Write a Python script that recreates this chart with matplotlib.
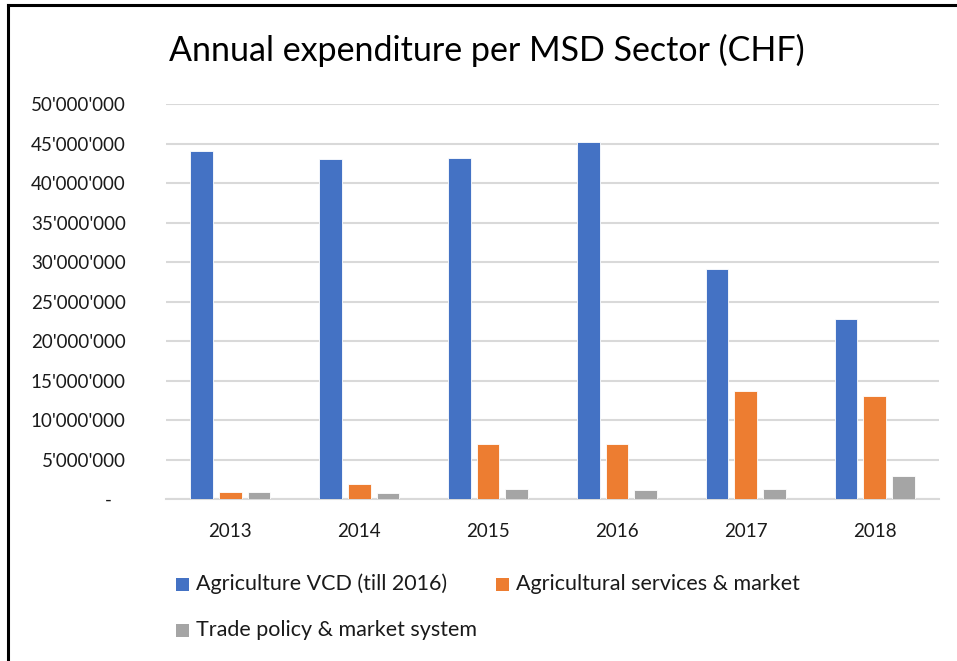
import numpy as np
import matplotlib.pyplot as plt
from matplotlib.lines import Line2D
from matplotlib.patches import Rectangle
from matplotlib.ticker import FuncFormatter, MultipleLocator

plt.rcParams['font.family'] = ['Lato', 'DejaVu Sans']

years = ['2013', '2014', '2015', '2016', '2017', '2018']
series_names = ['Agriculture VCD (till 2016)',
                'Agricultural services & market',
                'Trade policy & market system']
agri_vcd = [44.05e6, 43.0e6, 43.2e6, 45.2e6, 29.1e6, 22.75e6]
agri_services = [0.85e6, 1.86e6, 6.93e6, 7.01e6, 13.67e6, 13.0e6]
trade_policy = [0.85e6, 0.72e6, 1.27e6, 1.14e6, 1.23e6, 2.87e6]
colors = ['#4472C4', '#ED7D31', '#A5A5A5']


def chf(v, pos):
    if v == 0:
        return '-   '
    return f'{int(v):,}'.replace(',', "'")


W, H = 957, 661
fig = plt.figure(figsize=(W / 100, H / 100), dpi=100)
ax = fig.add_axes([166 / W, 1 - 499 / H, (939 - 166) / W, (499 - 104) / H])

x = np.arange(len(years))
width = 0.176
step = 0.223
for i, vals in enumerate([agri_vcd, agri_services, trade_policy]):
    ax.bar(x + (i - 1) * step, vals, width, color=colors[i],
           edgecolor='white', linewidth=0.6, zorder=3)

ax.set_xlim(-0.5, len(years) - 0.5)
ax.set_ylim(0, 50e6)
ax.yaxis.set_major_locator(MultipleLocator(5e6))
ax.yaxis.set_major_formatter(FuncFormatter(chf))
ax.set_xticks(x)
ax.set_xticklabels(years)
ax.grid(axis='y', color='#d9d9d9', linewidth=1.5, zorder=0)
for s in ['top', 'right', 'left']:
    ax.spines[s].set_visible(False)
ax.spines['bottom'].set_color('#d9d9d9')
ax.spines['bottom'].set_linewidth(1.5)
ax.tick_params(axis='both', length=0, labelsize=13.5, colors='#1a1a1a')
ax.tick_params(axis='y', pad=29)
ax.tick_params(axis='x', pad=17)

fig.text(487 / W, 1 - 50 / H, 'Annual expenditure per MSD Sector (CHF)',
         ha='center', va='center', fontsize=24.5, color='#000000')

# legend: two entries on the first row, one on the second
legend_pos = [(176, 584), (496, 584), (176, 630)]
for (px, py), name, c in zip(legend_pos, series_names, colors):
    fig.add_artist(Rectangle((px / W, 1 - (py + 6.5) / H), 13 / W, 13 / H,
                             facecolor=c, edgecolor='none'))
    fig.text((px + 20) / W, 1 - py / H, name, ha='left', va='center',
             fontsize=15.5, color='#1a1a1a')

# chart frame: left and top edges
fig.add_artist(Line2D([8 / W, 8 / W], [0, 1 - 5 / H], color='black', linewidth=2.2))
fig.add_artist(Line2D([8 / W, 1], [1 - 5 / H, 1 - 5 / H], color='black', linewidth=2.2))

fig.savefig('out.png', dpi=100)
